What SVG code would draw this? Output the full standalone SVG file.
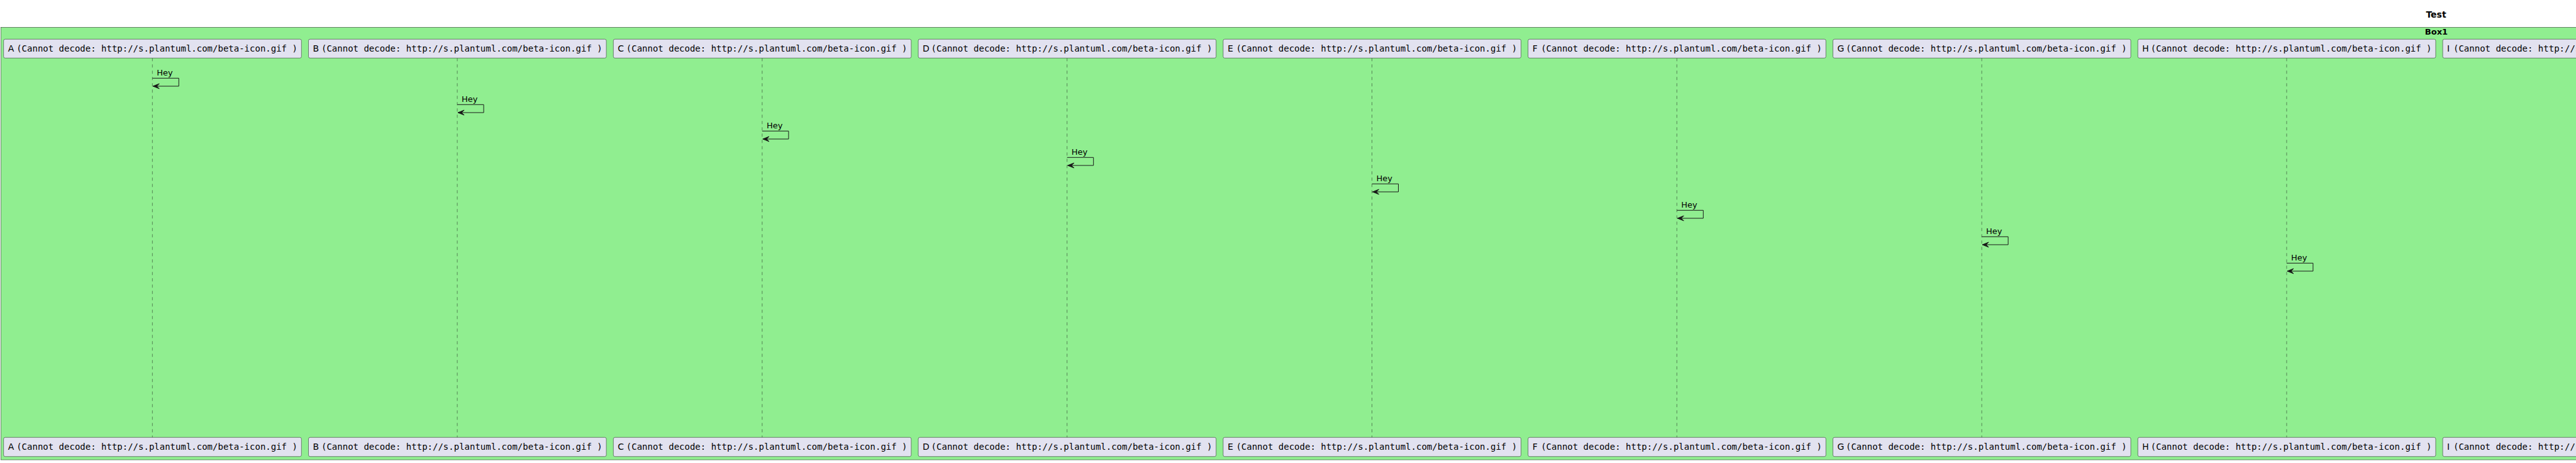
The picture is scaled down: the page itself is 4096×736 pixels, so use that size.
<svg xmlns="http://www.w3.org/2000/svg" width="4096" height="736" viewBox="0 0 4096 736">
<defs>
<style>
.bg{fill:#FFFFFF}
.box{fill:#90EE90;stroke:#181818;stroke-width:0.5}
.p{fill:#E2E2F0;stroke:#181818;stroke-width:0.5}
.life{stroke:#181818;stroke-width:0.5;stroke-dasharray:5,5;fill:none}
.ps{font-family:"DejaVu Sans","Liberation Sans",sans-serif;font-size:14px;fill:#000000}
.pm{font-family:"DejaVu Sans Mono","Liberation Mono",monospace;font-size:14px;fill:#000000}
.title{font-family:"DejaVu Sans","Liberation Sans",sans-serif;font-size:14px;font-weight:bold;fill:#000000}
.boxt{font-family:"DejaVu Sans","Liberation Sans",sans-serif;font-size:13px;font-weight:bold;fill:#000000}
.msg{stroke:#181818;stroke-width:1;fill:none}
.head{fill:#181818;stroke:#181818;stroke-width:1}
.lbl{font-family:"DejaVu Sans","Liberation Sans",sans-serif;font-size:13px;fill:#000000}
</style>
<g id="selfmsg">
<path class="msg" d="M0,0 H42 V12.7 H1"/>
<polygon class="head" points="11,8.7 1,12.7 11,16.7 7,12.7"/>
</g>
</defs>
<rect class="bg" x="0" y="0" width="4096" height="736"/>
<text class="title" x="3873.5" y="28" text-anchor="middle">Test</text>
<g id="Box1">
<rect class="box" x="1.3" y="43.3" width="7744" height="687.7"/>
<text class="boxt" x="3874" y="55" text-anchor="middle">Box1</text>
</g>

<g id="A">
<line class="life" x1="242.3" y1="92.3" x2="242.3" y2="695.3"/>
<rect class="p" x="5.7" y="62.3" width="473.6" height="30" rx="2.5"/>
<text class="ps" x="12.7" y="82">A</text><text class="pm" x="26.2" y="82">(Cannot decode: http://s.plantuml.com/beta-icon.gif )</text>
<rect class="p" x="5.7" y="695.3" width="473.6" height="30.4" rx="2.5"/>
<text class="ps" x="12.7" y="715">A</text><text class="pm" x="26.2" y="715">(Cannot decode: http://s.plantuml.com/beta-icon.gif )</text>
</g>
<g id="B">
<line class="life" x1="727.1" y1="92.3" x2="727.1" y2="695.3"/>
<rect class="p" x="490.5" y="62.3" width="473.6" height="30" rx="2.5"/>
<text class="ps" x="497.5" y="82">B</text><text class="pm" x="511" y="82">(Cannot decode: http://s.plantuml.com/beta-icon.gif )</text>
<rect class="p" x="490.5" y="695.3" width="473.6" height="30.4" rx="2.5"/>
<text class="ps" x="497.5" y="715">B</text><text class="pm" x="511" y="715">(Cannot decode: http://s.plantuml.com/beta-icon.gif )</text>
</g>
<g id="C">
<line class="life" x1="1211.9" y1="92.3" x2="1211.9" y2="695.3"/>
<rect class="p" x="975.3" y="62.3" width="473.6" height="30" rx="2.5"/>
<text class="ps" x="982.3" y="82">C</text><text class="pm" x="995.8" y="82">(Cannot decode: http://s.plantuml.com/beta-icon.gif )</text>
<rect class="p" x="975.3" y="695.3" width="473.6" height="30.4" rx="2.5"/>
<text class="ps" x="982.3" y="715">C</text><text class="pm" x="995.8" y="715">(Cannot decode: http://s.plantuml.com/beta-icon.gif )</text>
</g>
<g id="D">
<line class="life" x1="1696.7" y1="92.3" x2="1696.7" y2="695.3"/>
<rect class="p" x="1460.1" y="62.3" width="473.6" height="30" rx="2.5"/>
<text class="ps" x="1467.1" y="82">D</text><text class="pm" x="1480.6" y="82">(Cannot decode: http://s.plantuml.com/beta-icon.gif )</text>
<rect class="p" x="1460.1" y="695.3" width="473.6" height="30.4" rx="2.5"/>
<text class="ps" x="1467.1" y="715">D</text><text class="pm" x="1480.6" y="715">(Cannot decode: http://s.plantuml.com/beta-icon.gif )</text>
</g>
<g id="E">
<line class="life" x1="2181.5" y1="92.3" x2="2181.5" y2="695.3"/>
<rect class="p" x="1944.9" y="62.3" width="473.6" height="30" rx="2.5"/>
<text class="ps" x="1951.9" y="82">E</text><text class="pm" x="1965.4" y="82">(Cannot decode: http://s.plantuml.com/beta-icon.gif )</text>
<rect class="p" x="1944.9" y="695.3" width="473.6" height="30.4" rx="2.5"/>
<text class="ps" x="1951.9" y="715">E</text><text class="pm" x="1965.4" y="715">(Cannot decode: http://s.plantuml.com/beta-icon.gif )</text>
</g>
<g id="F">
<line class="life" x1="2666.3" y1="92.3" x2="2666.3" y2="695.3"/>
<rect class="p" x="2429.7" y="62.3" width="473.6" height="30" rx="2.5"/>
<text class="ps" x="2436.7" y="82">F</text><text class="pm" x="2450.2" y="82">(Cannot decode: http://s.plantuml.com/beta-icon.gif )</text>
<rect class="p" x="2429.7" y="695.3" width="473.6" height="30.4" rx="2.5"/>
<text class="ps" x="2436.7" y="715">F</text><text class="pm" x="2450.2" y="715">(Cannot decode: http://s.plantuml.com/beta-icon.gif )</text>
</g>
<g id="G">
<line class="life" x1="3151.1" y1="92.3" x2="3151.1" y2="695.3"/>
<rect class="p" x="2914.5" y="62.3" width="473.6" height="30" rx="2.5"/>
<text class="ps" x="2921.5" y="82">G</text><text class="pm" x="2935" y="82">(Cannot decode: http://s.plantuml.com/beta-icon.gif )</text>
<rect class="p" x="2914.5" y="695.3" width="473.6" height="30.4" rx="2.5"/>
<text class="ps" x="2921.5" y="715">G</text><text class="pm" x="2935" y="715">(Cannot decode: http://s.plantuml.com/beta-icon.gif )</text>
</g>
<g id="H">
<line class="life" x1="3635.9" y1="92.3" x2="3635.9" y2="695.3"/>
<rect class="p" x="3399.3" y="62.3" width="473.6" height="30" rx="2.5"/>
<text class="ps" x="3406.3" y="82">H</text><text class="pm" x="3419.8" y="82">(Cannot decode: http://s.plantuml.com/beta-icon.gif )</text>
<rect class="p" x="3399.3" y="695.3" width="473.6" height="30.4" rx="2.5"/>
<text class="ps" x="3406.3" y="715">H</text><text class="pm" x="3419.8" y="715">(Cannot decode: http://s.plantuml.com/beta-icon.gif )</text>
</g>
<g id="I">
<rect class="p" x="3884.1" y="62.3" width="473.6" height="30" rx="2.5"/>
<text class="ps" x="3891.1" y="82">I</text><text class="pm" x="3901" y="82">(Cannot decode: http://s.plantuml.com/beta-icon.gif )</text>
<rect class="p" x="3884.1" y="695.3" width="473.6" height="30.4" rx="2.5"/>
<text class="ps" x="3891.1" y="715">I</text><text class="pm" x="3901" y="715">(Cannot decode: http://s.plantuml.com/beta-icon.gif )</text>
</g>

<g id="connectors">
<text class="lbl" x="249.3" y="120">Hey</text><use href="#selfmsg" x="242.3" y="124.3"/>
<text class="lbl" x="734.1" y="162">Hey</text><use href="#selfmsg" x="727.1" y="166.3"/>
<text class="lbl" x="1218.9" y="204">Hey</text><use href="#selfmsg" x="1211.9" y="208.3"/>
<text class="lbl" x="1703.7" y="246">Hey</text><use href="#selfmsg" x="1696.7" y="250.3"/>
<text class="lbl" x="2188.5" y="288">Hey</text><use href="#selfmsg" x="2181.5" y="292.3"/>
<text class="lbl" x="2673.3" y="330">Hey</text><use href="#selfmsg" x="2666.3" y="334.3"/>
<text class="lbl" x="3158.1" y="372">Hey</text><use href="#selfmsg" x="3151.1" y="376.3"/>
<text class="lbl" x="3642.9" y="414">Hey</text><use href="#selfmsg" x="3635.9" y="418.3"/>
</g>
</svg>
